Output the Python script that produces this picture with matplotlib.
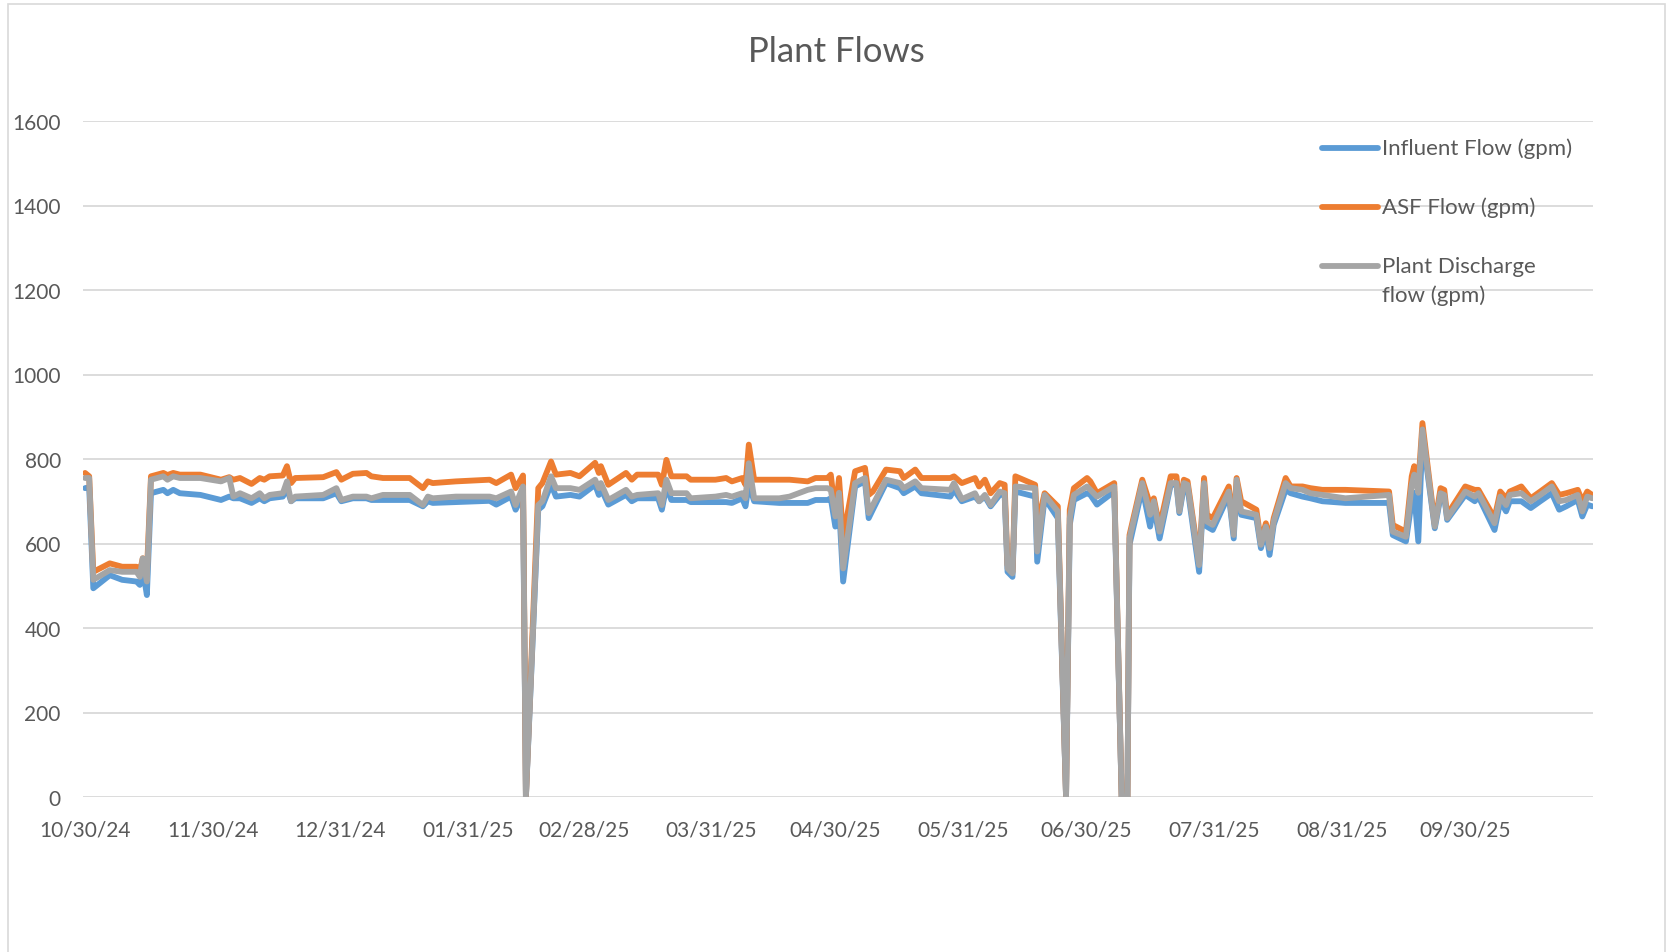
"""Plant Flows chart - influent, ASF and discharge flow over one year."""
import numpy as np
import pandas as pd
import matplotlib
matplotlib.use("Agg")
import matplotlib.pyplot as plt
from matplotlib.lines import Line2D
from matplotlib.patches import Rectangle

# ================================================
# DATA
# ================================================
START = pd.Timestamp("2024-10-30")

# days since 10/30/24
day_offset = [
    0, 1, 2, 6, 9, 12.5, 13.3, 14, 15, 16, 19, 20, 21.4, 23, 28, 33, 35, 36, 37.6,
    40.4, 42.4, 43.5, 44.8, 48, 49, 50, 51, 57.8, 61, 62.2, 65, 68.3, 69.5, 72.3,
    78.8, 82, 83.2, 84.4, 90, 98.2, 99.8, 103.4, 104.5, 106.3, 107, 110, 111,
    113.1, 114.3, 117.8, 120, 123.8, 124.7, 125.2, 127, 131.3, 132.7, 134, 139.1,
    140, 141.1, 142.3, 146, 147, 153, 155.6, 157, 159.5, 160.3, 161.1, 162.4,
    168.5, 171, 175.4, 177.3, 180.2, 181, 182.1, 183, 184, 186.9, 189.3, 190.2,
    191.2, 194.4, 197.8, 198.7, 201.5, 203, 210, 210.9, 212.8, 216, 217, 218.4,
    219.8, 222, 223.2, 223.9, 225.1, 225.8, 230.6, 231.1, 232.9, 236.1, 238.1,
    239, 240, 243.2, 244, 245.6, 249.8, 251.6, 253, 253.5, 256.6, 258.5, 259.4,
    260.8, 263.5, 264.9, 265.6, 266.7, 267.6, 270.4, 271.6, 272.3, 273.7, 277.6,
    278.8, 279.5, 280.6, 284.3, 285.4, 286.6, 287.5, 288.5, 291.4, 292.6, 295.5,
    297.4, 300.3, 305.9, 316.5, 317.4, 320.6, 322, 322.6, 323.6, 324.6, 327.6,
    329, 329.9, 330.6, 335, 337.3, 338.2, 342.1, 343.5, 344.9, 345.8, 348.6,
    350.9, 353.2, 356, 357.8, 359.5, 362.3, 363.4, 364.6, 365.8,
]

influent = [
    731, 733, 494, 525, 514, 510, 502, 540, 478, 719, 727, 719, 727, 719, 715, 703, 711, 707, 707,
    696, 707, 700, 707, 711, 730, 700, 707, 707, 719, 700, 707, 707, 703, 703,
    703, 688, 700, 696, 698, 701, 692, 711, 680, 715, 0, 680, 688,
    740, 711, 715, 711, 739, 715, 731, 692, 715, 700, 707, 707,
    680, 735, 703, 703, 698, 698, 698, 696, 707, 688, 740, 700,
    696, 696, 696, 703, 703, 707, 640, 690, 510, 735, 747, 660,
    680, 743, 731, 719, 735, 719, 711, 727, 700, 711, 700, 711,
    688, 715, 715, 533, 521, 723, 711, 557, 707, 660, 0,
    644, 703, 719, 715, 692, 723, 0, 0, 597, 731, 640, 690,
    612, 739, 739, 672, 735, 731, 533, 735, 640, 632, 715,
    612, 735, 668, 660, 589, 632, 573, 644, 727, 719, 711,
    707, 700, 696, 696, 620, 605, 700, 720, 605, 858, 636,
    711, 711, 656, 715, 700, 711, 632, 700, 676, 700, 700,
    684, 700, 719, 680, 688, 703, 664, 692, 688,
]

asf = [
    767, 759, 533, 553, 545, 545, 533, 565, 530, 759, 767, 762, 767, 763, 763, 751, 757, 751, 755,
    741, 755, 751, 759, 761, 783, 743, 755, 757, 769, 751, 765, 767, 759, 755,
    755, 731, 747, 743, 747, 751, 743, 763, 731, 761, 0, 731, 743,
    794, 763, 767, 759, 791, 767, 783, 739, 767, 751, 763, 763,
    739, 798, 759, 759, 751, 751, 755, 747, 755, 739, 834, 751,
    751, 751, 747, 755, 755, 763, 672, 755, 612, 771, 779, 715,
    723, 775, 771, 755, 775, 755, 755, 759, 743, 755, 735, 751,
    719, 743, 739, 549, 533, 759, 739, 644, 719, 688, 0,
    680, 731, 755, 747, 719, 743, 0, 0, 620, 751, 692, 707,
    640, 759, 759, 688, 751, 747, 557, 755, 668, 660, 735,
    640, 755, 700, 680, 604, 648, 604, 660, 755, 735, 735,
    731, 727, 727, 723, 644, 628, 759, 783, 740, 885, 645,
    731, 727, 668, 735, 727, 727, 660, 723, 707, 723, 735,
    707, 723, 743, 715, 719, 727, 700, 723, 715,
]

discharge = [
    755, 755, 514, 537, 533, 533, 521, 565, 510, 751, 759, 751, 759, 755, 755, 747, 755, 711, 719,
    707, 719, 707, 715, 719, 747, 700, 711, 715, 731, 703, 711, 711, 707, 715,
    715, 691, 711, 707, 711, 711, 707, 723, 691, 735, 0, 691, 700,
    759, 731, 731, 727, 751, 731, 743, 703, 727, 711, 715, 719,
    691, 751, 719, 719, 707, 711, 715, 711, 719, 707, 790, 707,
    707, 711, 727, 731, 731, 727, 664, 720, 541, 743, 755, 672,
    691, 751, 743, 731, 747, 731, 727, 743, 705, 719, 700, 715,
    691, 723, 719, 541, 529, 735, 731, 581, 715, 676, 0,
    660, 715, 735, 727, 711, 735, 0, 0, 612, 743, 668, 700,
    628, 743, 743, 676, 743, 739, 549, 743, 652, 644, 723,
    620, 751, 676, 668, 597, 640, 589, 652, 743, 731, 727,
    719, 715, 707, 715, 628, 616, 739, 763, 720, 870, 640,
    719, 715, 660, 723, 711, 719, 648, 711, 691, 715, 719,
    700, 715, 735, 700, 703, 715, 676, 711, 707,
]

series_names = ["Influent Flow (gpm)", "ASF Flow (gpm)", "Plant Discharge\nflow (gpm)"]
series_colors = ["#5B9BD5", "#ED7D31", "#A5A5A5"]

x_tick_labels = ["10/30/24", "11/30/24", "12/31/24", "01/31/25", "02/28/25", "03/31/25",
                 "04/30/25", "05/31/25", "06/30/25", "07/31/25", "08/31/25", "09/30/25"]
y_ticks = [0, 200, 400, 600, 800, 1000, 1200, 1400, 1600]

# ================================================
# STIJL
# ================================================
W, H = 1667, 953
FONT = "Lato"
TEXT_KLEUR = "#595959"
GRID_KLEUR = "#D9D9D9"
LW = 4.2


def px(x, y):
    """Pixel (vanaf linksboven) naar figure fraction."""
    return x / W, 1 - y / H


def main() -> None:
    plt.rcParams["font.family"] = [FONT, "DejaVu Sans"]

    fig = plt.figure(figsize=(W / 100, H / 100), dpi=100)
    fig.patch.set_facecolor("white")

    # rand rond de grafiek
    x0, y0 = px(8, 5)
    x1, _ = px(1665, 5)
    fig.add_artist(Rectangle((x0, -0.01), x1 - x0, y0 + 0.01, transform=fig.transFigure,
                             fill=False, edgecolor=GRID_KLEUR, linewidth=1.2))

    left, top = px(83, 122)
    right, bottom = px(1593, 798)
    ax = fig.add_axes([left, bottom, right - left, top - bottom])

    dates = START + pd.to_timedelta(np.array(day_offset), unit="D")
    for vals, kleur in zip([influent, asf, discharge], series_colors):
        ax.plot(dates, vals, color=kleur, linewidth=LW,
                solid_joinstyle="round", solid_capstyle="round")

    ax.set_ylim(0, 1600)
    ax.set_yticks(y_ticks)
    ax.set_xlim(START - pd.Timedelta(days=0.5), START + pd.Timedelta(days=366))
    ax.set_xticks(pd.to_datetime(x_tick_labels, format="%m/%d/%y"))
    ax.set_xticklabels(x_tick_labels)

    ax.grid(axis="y", color=GRID_KLEUR, linewidth=1.3)
    ax.set_axisbelow(True)
    for s in ax.spines.values():
        s.set_visible(False)
    ax.tick_params(axis="both", length=0, labelsize=15, labelcolor=TEXT_KLEUR)
    ax.tick_params(axis="x", pad=16)
    ax.tick_params(axis="y", pad=16)

    # titel
    tx, ty = px(836, 52)
    fig.text(tx, ty, "Plant Flows", ha="center", va="center", fontsize=25,
             color=TEXT_KLEUR)

    # legenda
    rij_y = [149, 208, 267]
    for name, kleur, ry in zip(series_names, series_colors, rij_y):
        lx0, ly = px(1322, ry)
        lx1, _ = px(1378, ry)
        fig.add_artist(Line2D([lx0, lx1], [ly, ly], transform=fig.transFigure,
                              color=kleur, linewidth=LW, solid_capstyle="round"))
        for k, regel in enumerate(name.split("\n")):
            tx, ty = px(1382, ry + k * 29)
            fig.text(tx, ty, regel, ha="left", va="center", fontsize=16, color=TEXT_KLEUR)

    fig.savefig("out.png", dpi=100)


if __name__ == "__main__":
    main()
